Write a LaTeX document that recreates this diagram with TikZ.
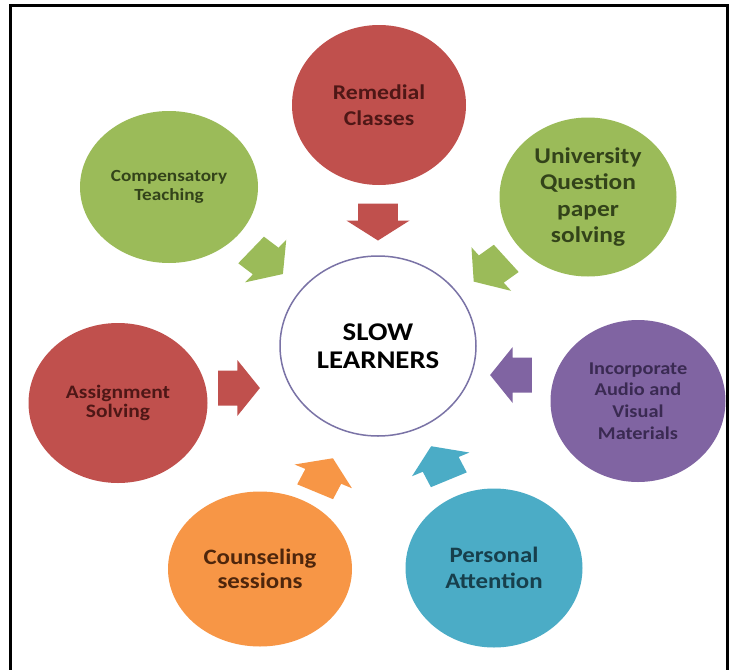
\documentclass[tikz,border=0pt]{standalone}
\usepackage{fontspec}
\setmainfont{Carlito}[FakeStretch=1.13]
\usetikzlibrary{shapes.geometric}
\definecolor{cred}{HTML}{C0504D}
\definecolor{cgreen}{HTML}{9BBB59}
\definecolor{cpurple}{HTML}{8064A2}
\definecolor{corange}{HTML}{F79646}
\definecolor{ccyan}{HTML}{4BACC6}
\definecolor{tred}{HTML}{4E1716}
\definecolor{tgreen}{HTML}{33431A}
\definecolor{tpurple}{HTML}{3A2A52}
\definecolor{torange}{HTML}{4E260C}
\definecolor{tcyan}{HTML}{173F4C}
\definecolor{cring}{HTML}{7A73A6}
\newcommand\blockarr[4]{%
  \begin{scope}[shift={(#1,#2)},xscale=1.13]
    \fill[#4,rotate=#3] (-18.5,-17.5) -- (-1.5,-17.5) -- (-1.5,-28) -- (18.5,0)
      -- (-1.5,28) -- (-1.5,17.5) -- (-18.5,17.5) -- cycle;
  \end{scope}}
\tikzset{
  bubble/.style={ellipse,inner sep=0pt,align=center,font=\bfseries},
}
\begin{document}
\begin{tikzpicture}[x=1pt,y=-1pt]
\useasboundingbox (0,0) rectangle (732,670);
\fill[white] (0,0) rectangle (732,670);
\draw[line width=3pt] (10,670) -- (10,5.5) -- (727,5.5) -- (727,670);
% outer bubbles
\node[bubble,fill=cred,text=tred,minimum width=174pt,minimum height=160pt,font=\bfseries\fontsize{21}{26}\selectfont] (rem) at (379,105) {Remedial\\Classes};
\node[bubble,fill=cgreen,text=tgreen,minimum width=178pt,minimum height=152pt,font=\bfseries\fontsize{17}{18.5}\selectfont] (comp) at (169,187) {Compensatory\\Teaching};
\node[bubble,fill=cgreen,text=tgreen,minimum width=177pt,minimum height=159pt,font=\bfseries\fontsize{22.5}{26.3}\selectfont] (univ) at (588,197) {University\\Question\\paper\\solving};
\node[bubble,fill=cred,text=tred,minimum width=179pt,minimum height=160pt,font=\bfseries\fontsize{19}{19}\selectfont] (assign) at (118,403) {Assignment\\Solving};
\node[bubble,fill=cpurple,text=tpurple,minimum width=175pt,minimum height=162pt,font=\bfseries\fontsize{18}{21.7}\selectfont] (incorp) at (638,401) {Incorporate\\Audio and\\Visual\\Materials};
\node[bubble,fill=corange,text=torange,minimum width=184pt,minimum height=155pt,font=\bfseries\fontsize{22}{23.5}\selectfont] (couns) at (260,569) {Counseling\\sessions};
\node[bubble,fill=ccyan,text=tcyan,minimum width=177pt,minimum height=159pt,font=\bfseries\fontsize{22}{26}\selectfont] (pers) at (494,568) {Personal\\Attention};
% centre
\node[bubble,fill=white,draw=cring,line width=1.5pt,text=black,minimum width=196pt,minimum height=180pt,font=\bfseries\fontsize{25.5}{28}\selectfont] (slow) at (378,346) {SLOW\\LEARNERS};
% block arrows
\blockarr{378}{222}{-90}{cred}
\blockarr{267}{262}{-40.5}{cgreen}
\blockarr{490}{270}{218.9}{cgreen}
\blockarr{239}{388}{0}{cred}
\blockarr{511}{375}{180}{cpurple}
\blockarr{324}{475}{64.9}{corange}
\blockarr{440}{463}{115}{ccyan}
\end{tikzpicture}
\end{document}
